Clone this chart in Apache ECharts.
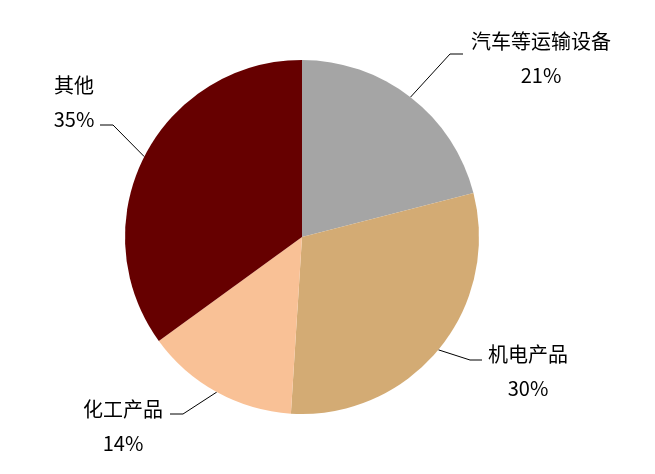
<!DOCTYPE html>
<html>
<head>
<meta charset="utf-8">
<script src="https://cdn.jsdelivr.net/npm/echarts@6/dist/echarts.min.js"></script>
<style>
html,body{margin:0;padding:0;background:#fff;}
#chart{width:655px;height:474px;}
</style>
</head>
<body>
<div id="chart"></div>
<script>
// Data
var categories = ['汽车等运输设备', '机电产品', '化工产品', '其他'];
var shares = [21, 30, 14, 35];

// Styling / layout (not data)
var colors = ['#A5A5A5', '#D3AB74', '#F9C196', '#660000'];
// label block centers and label-line elbow/end points
var labelCenters = [[541, 58], [528, 371], [123, 426], [74, 102]];
var lineElbows = [[[450, 54], [463, 54]], [[470, 360], [482, 360]], [[183, 414], [170, 414]], [[113, 125], [100, 125]]];

var chart = echarts.init(document.getElementById('chart'));
var data = categories.map(function (n, i) {
  return { name: n, value: shares[i], itemStyle: { color: colors[i] } };
});
chart.setOption({
  animation: false,
  backgroundColor: '#fff',
  series: [{
    type: 'pie',
    center: [302, 237],
    radius: 177,
    startAngle: 90,
    clockwise: true,
    data: data,
    itemStyle: { borderWidth: 0 },
    label: {
      show: true,
      position: 'outside',
      formatter: '{b}\n{c}%',
      fontFamily: 'Noto Sans CJK SC',
      fontSize: 20,
      lineHeight: 34,
      color: '#000',
      align: 'center'
    },
    labelLine: {
      show: true,
      length: 20,
      length2: 10,
      lineStyle: { color: '#000', width: 1 }
    },
    labelLayout: function (params) {
      var i = params.dataIndex;
      var c = labelCenters[i];
      var start = params.labelLinePoints ? params.labelLinePoints[0] : null;
      var res = {
        x: c[0],
        y: c[1],
        align: 'center',
        verticalAlign: 'middle'
      };
      if (start) {
        res.labelLinePoints = [start, lineElbows[i][0], lineElbows[i][1]];
      }
      return res;
    }
  }]
});
</script>
</body>
</html>
